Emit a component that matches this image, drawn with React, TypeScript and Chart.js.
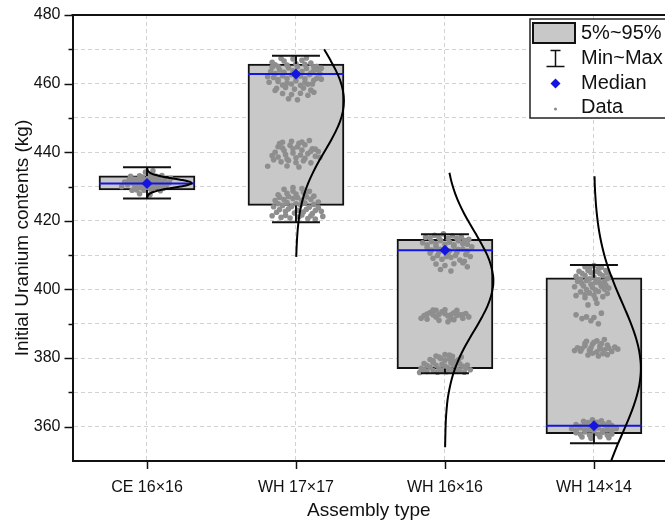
import { useEffect, useRef } from 'react';
import { Chart, registerables } from 'chart.js';

Chart.register(...registerables);

// ---- data -----------------------------------------------------------------
const categories = ['CE 16×16', 'WH 17×17', 'WH 16×16', 'WH 14×14'];
const lowerBox = [429.0, 424.5, 376.9, 358.0]; // 5th percentile
const upperBox = [433.1, 465.7, 414.6, 403.4]; // 95th percentile
const minima = [426.5, 419.6, 375.6, 355.2];
const maxima = [435.6, 468.1, 416.1, 407.1];
const medians = [430.9, 462.8, 411.4, 360.3];

const yMin = 350;
const yMax = 480;
const yStep = 10;
const yLabelStep = 20;

const legendLabels = ['5%~95%', 'Min~Max', 'Median', 'Data'];

// Fitted normal curves: level (kg) and half-width (in category units)
const ceCurveLevels = [426.5, 427, 427.5, 428, 428.5, 429, 429.5, 430, 430.5, 431, 431.5, 432, 432.5, 433, 433.5, 434, 434.5, 435, 435.5];
const ceCurveWidths = [0.001, 0.003, 0.008, 0.021, 0.047, 0.092, 0.154, 0.223, 0.279, 0.3, 0.279, 0.223, 0.154, 0.092, 0.047, 0.021, 0.008, 0.003, 0.001];

const wh17CurveLevels = [409.5, 412, 416, 419, 422, 425, 428, 431, 434, 437, 440, 443, 446, 449, 452, 455, 458, 461, 464, 467, 470];
const wh17CurveWidths = [0.002, 0.004, 0.009, 0.015, 0.024, 0.038, 0.057, 0.082, 0.113, 0.149, 0.189, 0.229, 0.266, 0.296, 0.315, 0.322, 0.315, 0.296, 0.266, 0.229, 0.189];

const wh16CurveLevels = [354, 358, 362, 365, 368, 371, 374, 377, 380, 383, 386, 389, 392, 395, 398, 401, 402.5, 404, 407, 410, 413, 416, 419, 422, 425, 428, 431, 434];
const wh16CurveWidths = [0.001, 0.003, 0.006, 0.011, 0.018, 0.03, 0.046, 0.068, 0.096, 0.13, 0.169, 0.21, 0.249, 0.284, 0.309, 0.323, 0.325, 0.323, 0.309, 0.284, 0.249, 0.21, 0.169, 0.13, 0.096, 0.068, 0.046, 0.03];

const wh14CurveLevels = [350, 354, 357, 360, 363, 366, 369, 372, 375, 377, 379, 382, 385, 388, 391, 394, 397, 400, 403, 406, 409, 412, 415, 418, 421, 424, 427, 430, 433];
const wh14CurveWidths = [0.115, 0.151, 0.181, 0.211, 0.24, 0.266, 0.288, 0.304, 0.313, 0.315, 0.313, 0.304, 0.288, 0.266, 0.24, 0.211, 0.181, 0.151, 0.124, 0.098, 0.076, 0.058, 0.043, 0.031, 0.022, 0.015, 0.01, 0.006, 0.004];

// Individual samples: [jitter (category units), uranium content (kg)]
const ceSamples: [number, number][] = [
  [-0.1, 431.2], [-0.06, 430.6], [-0.02, 431.5], [0.02, 430.8], [0.06, 431.4], [0.1, 430.7],
  [-0.08, 432.1], [-0.04, 432.4], [0.0, 432.0], [0.04, 432.3], [0.08, 431.9],
  [-0.08, 429.9], [-0.04, 429.6], [0.0, 430.1], [0.04, 429.7], [0.08, 430.2],
  [-0.13, 430.5], [-0.12, 431.9], [0.12, 432.0], [0.13, 430.4],
  [-0.05, 433.1], [0.01, 433.3], [0.06, 433.0], [-0.02, 428.9], [0.03, 429.0], [-0.07, 429.0],
  [-0.15, 431.3], [0.15, 431.1], [-0.11, 433.0], [0.1, 433.2], [-0.1, 428.9], [0.09, 428.8],
  [-0.01, 434.2], [0.04, 434.6], [-0.05, 427.9], [0.02, 427.6], [-0.17, 430.0], [0.16, 432.4],
  [0.0, 431.0], [-0.03, 430.3], [0.05, 432.9],
  [-0.09, 430.9], [-0.05, 431.0], [-0.01, 430.5], [0.03, 431.2], [0.07, 430.9], [-0.07, 431.7],
  [-0.03, 431.8], [0.01, 431.6], [0.05, 431.9], [0.09, 431.5], [-0.06, 430.2], [-0.02, 430.0],
  [0.02, 430.4], [0.06, 429.9], [-0.11, 432.6], [0.11, 429.5], [0.0, 429.4], [-0.03, 432.8], [0.03, 432.7],
];

const wh17Samples: [number, number][] = [
  // upper group
  [-0.14, 465.5], [-0.08, 466.6], [-0.02, 467.2], [0.04, 466.8], [0.1, 466.0], [0.14, 465.0],
  [-0.17, 463.5], [-0.11, 464.0], [-0.05, 464.6], [0.01, 464.9], [0.07, 464.4], [0.12, 463.8], [0.16, 462.9],
  [-0.15, 461.8], [-0.09, 462.3], [-0.03, 462.6], [0.03, 462.2], [0.09, 462.6], [0.14, 461.6],
  [-0.18, 460.4], [-0.12, 460.6], [-0.06, 460.2], [0.0, 460.8], [0.06, 460.3], [0.11, 459.9],
  [-0.13, 458.6], [-0.07, 458.9], [-0.01, 458.4], [0.05, 458.7], [0.1, 458.1],
  [-0.09, 457.1], [-0.03, 456.8], [0.03, 457.2], [0.08, 456.6], [-0.05, 455.6], [0.01, 455.3],
  [-0.19, 462.0], [0.17, 464.5], [-0.16, 466.2], [0.07, 467.5], [-0.1, 467.3], [0.12, 457.5], [-0.14, 458.0],
  [-0.12, 465.0], [-0.06, 465.4], [0.0, 465.8], [0.06, 465.6], [0.12, 464.9],
  [-0.14, 462.9], [-0.08, 463.3], [-0.02, 463.7], [0.04, 463.5], [0.1, 463.1], [0.15, 464.0],
  [-0.12, 461.2], [-0.06, 461.5], [0.0, 461.9], [0.06, 461.4], [0.12, 461.0],
  [-0.09, 459.6], [-0.03, 459.9], [0.03, 459.5], [0.08, 459.8], [-0.16, 464.8], [0.17, 461.3],
  // middle group
  [-0.14, 440.0], [-0.09, 441.2], [-0.04, 442.0], [0.01, 441.6], [0.06, 442.2], [0.11, 441.0], [0.15, 440.2],
  [-0.12, 438.6], [-0.07, 439.3], [-0.02, 439.8], [0.03, 439.2], [0.08, 439.6], [0.13, 438.8],
  [-0.1, 437.2], [-0.05, 437.6], [0.0, 437.0], [0.05, 437.5], [0.1, 436.9],
  [-0.03, 443.2], [0.04, 443.0], [-0.06, 436.0], [0.02, 435.7], [-0.16, 439.0], [0.16, 438.5],
  [-0.19, 435.9], [0.09, 443.4], [-0.11, 442.5],
  [-0.08, 440.5], [-0.02, 441.0], [0.04, 440.6], [0.1, 440.3], [-0.12, 441.6], [0.0, 438.4],
  [0.06, 438.2], [-0.06, 438.0], [-0.15, 437.8], [0.13, 440.9], [0.02, 442.6], [-0.09, 442.9],
  // lower group
  [-0.08, 429.2], [-0.02, 429.7], [0.04, 429.4], [0.09, 428.6],
  [-0.12, 427.6], [-0.06, 428.0], [0.0, 427.8], [0.06, 427.9], [0.12, 427.2],
  [-0.14, 425.9], [-0.08, 426.2], [-0.02, 426.5], [0.04, 426.0], [0.1, 426.3], [0.15, 425.5],
  [-0.15, 424.1], [-0.09, 424.5], [-0.03, 424.2], [0.03, 424.7], [0.09, 424.0], [0.15, 423.8],
  [-0.13, 422.5], [-0.07, 422.8], [-0.01, 422.3], [0.05, 422.6], [0.11, 422.1], [0.17, 422.8],
  [-0.1, 421.0], [-0.04, 420.8], [0.02, 421.2], [0.08, 420.7], [-0.16, 421.5], [0.18, 421.3], [0.13, 420.5],
  [-0.11, 426.9], [-0.05, 427.1], [0.01, 426.8], [0.07, 427.0], [-0.12, 425.0], [-0.06, 425.3],
  [0.0, 425.0], [0.06, 425.2], [0.12, 424.8], [-0.11, 423.3], [-0.05, 423.5], [0.01, 423.1],
  [0.07, 423.4], [0.13, 423.0], [-0.07, 421.6], [0.04, 421.7], [0.1, 421.5], [-0.02, 428.7], [0.05, 428.3],
];

const wh16Samples: [number, number][] = [
  // upper group
  [-0.13, 415.2], [-0.07, 415.8], [-0.01, 416.2], [0.05, 415.6], [0.11, 415.3], [0.16, 414.6],
  [-0.15, 413.6], [-0.09, 414.0], [-0.03, 414.3], [0.03, 413.8], [0.09, 414.2], [0.15, 413.2],
  [-0.12, 412.2], [-0.06, 412.5], [0.0, 412.0], [0.06, 412.6], [0.12, 411.8], [0.18, 412.4],
  [-0.1, 410.6], [-0.04, 410.9], [0.02, 410.4], [0.08, 410.8], [0.14, 410.2],
  [-0.08, 409.1], [-0.02, 408.8], [0.04, 409.3], [0.1, 408.6], [0.17, 409.6],
  [-0.06, 407.4], [0.0, 407.0], [0.06, 407.5], [0.12, 407.8], [-0.03, 405.8], [0.04, 405.4], [0.15, 406.6],
  [-0.1, 415.0], [-0.04, 415.1], [0.02, 414.9], [0.08, 414.9], [0.13, 414.3], [-0.12, 413.0],
  [-0.06, 413.3], [0.0, 413.2], [0.06, 413.0], [0.12, 413.3], [-0.09, 411.5], [-0.03, 411.7],
  [0.03, 411.3], [0.09, 411.6], [0.15, 411.2], [-0.05, 409.9], [0.01, 409.6], [0.07, 409.9], [0.13, 408.2],
  // middle group
  [-0.14, 392.4], [-0.1, 393.3], [-0.06, 392.0], [-0.02, 393.5], [0.02, 392.3], [0.06, 393.2], [0.1, 392.6], [0.14, 393.0],
  [-0.12, 391.3], [-0.04, 391.0], [0.04, 391.4], [0.12, 391.6], [-0.08, 394.0], [0.0, 394.1], [0.08, 393.9],
  [-0.16, 391.6], [0.16, 392.0], [0.02, 390.6],
  [-0.12, 392.8], [-0.08, 392.6], [-0.04, 392.7], [0.0, 392.9], [0.04, 392.6], [0.08, 392.4],
  [0.12, 392.7], [-0.06, 393.9], [0.06, 391.2],
  // lower group
  [-0.06, 380.6], [0.0, 381.0], [0.05, 380.5], [-0.1, 379.6], [-0.03, 379.9], [0.03, 379.7], [0.09, 379.5],
  [-0.14, 378.4], [-0.08, 378.7], [-0.02, 378.2], [0.04, 378.6], [0.1, 378.3], [0.15, 378.0],
  [-0.16, 377.0], [-0.1, 377.3], [-0.04, 376.9], [0.02, 377.2], [0.08, 376.8], [0.14, 377.1],
  [-0.12, 376.1], [-0.05, 375.9], [0.01, 376.0], [0.07, 376.2], [0.13, 375.9], [0.17, 376.6], [-0.17, 375.8], [0.11, 380.3],
  [-0.08, 379.2], [0.0, 379.4], [0.06, 379.1], [-0.12, 377.8], [-0.06, 377.9], [0.0, 377.7],
  [0.06, 377.9], [0.12, 377.6], [-0.14, 376.6], [-0.08, 376.4], [-0.02, 376.5], [0.04, 376.6],
  [0.1, 376.5], [-0.04, 380.3], [0.03, 380.9],
];

const wh14Samples: [number, number][] = [
  // upper group
  [-0.06, 406.6], [0.0, 407.0], [0.05, 406.4],
  [-0.1, 405.3], [-0.04, 405.6], [0.02, 405.2], [0.08, 405.5],
  [-0.12, 403.8], [-0.06, 404.1], [0.0, 403.6], [0.06, 404.0], [0.11, 403.5],
  [-0.11, 402.3], [-0.05, 402.6], [0.01, 402.1], [0.07, 402.4],
  [-0.13, 400.8], [-0.07, 401.0], [-0.01, 400.6], [0.05, 400.9], [0.1, 400.4],
  [-0.09, 399.3], [-0.03, 399.0], [0.03, 399.4], [0.09, 398.8],
  [-0.06, 397.6], [0.01, 397.3], [0.06, 397.9], [-0.12, 398.2], [0.02, 396.0], [-0.04, 395.5],
  [-0.03, 406.2], [0.03, 406.0], [-0.08, 404.7], [-0.02, 404.9], [0.04, 404.6], [0.09, 404.8],
  [-0.09, 403.0], [-0.03, 403.1], [0.03, 402.9], [0.09, 403.2], [-0.08, 401.7], [-0.02, 401.5],
  [0.04, 401.8], [0.08, 401.3], [-0.05, 400.0], [0.01, 399.8], [0.07, 400.1], [-0.06, 398.5], [0.0, 398.3],
  // sparse points
  [-0.12, 392.6], [-0.05, 392.0], [0.0, 391.8], [0.05, 393.1], [-0.02, 390.9], [0.03, 390.0], [-0.08, 391.5],
  // middle group
  [-0.11, 383.0], [-0.06, 383.6], [-0.01, 384.0], [0.04, 383.5], [0.09, 383.8], [0.14, 383.2],
  [-0.09, 382.0], [-0.03, 382.3], [0.02, 381.8], [0.07, 382.4], [0.12, 381.9],
  [-0.13, 382.2], [-0.04, 380.9], [0.03, 380.6], [0.09, 381.0], [0.02, 385.0], [0.07, 385.4], [-0.05, 384.9], [0.16, 382.6],
  [-0.08, 382.8], [-0.02, 383.0], [0.04, 382.7], [0.1, 382.9], [-0.06, 384.3], [0.0, 384.6],
  [0.05, 384.2], [-0.01, 381.4], [0.06, 381.3],
  // lower group
  [-0.07, 361.6], [-0.01, 362.0], [0.05, 361.7], [0.1, 361.2],
  [-0.12, 360.6], [-0.06, 360.8], [0.0, 360.4], [0.06, 360.9], [0.12, 360.3],
  [-0.15, 359.4], [-0.09, 359.7], [-0.03, 359.2], [0.03, 359.6], [0.09, 359.1], [0.15, 359.5],
  [-0.12, 358.2], [-0.06, 358.5], [0.0, 358.0], [0.06, 358.4], [0.12, 357.9],
  [-0.08, 357.0], [-0.02, 356.6], [0.04, 357.1], [0.1, 356.8],
  [-0.09, 360.1], [-0.03, 360.0], [0.03, 360.2], [0.09, 360.0], [-0.12, 359.0], [-0.06, 359.1],
  [0.0, 359.0], [0.06, 358.9], [0.12, 358.8], [-0.09, 357.7], [-0.03, 357.6], [0.03, 357.8],
  [0.09, 357.5], [-0.04, 361.2], [0.02, 361.3], [0.07, 360.5],
];

// ---- styling ----------------------------------------------------------------
const FONT = "'Liberation Sans', Arial, sans-serif";
const TEXT = '#111111';
const BOX_FILL = '#c8c8c8';
const BLUE = '#1515e0';
const DOT = '#8e8e8e';
const GRID = '#d2d2d2';
const BOX_HALF = 0.322;
const CAP_HALF = 0.161;

const curveLevels = [ceCurveLevels, wh17CurveLevels, wh16CurveLevels, wh14CurveLevels];
const curveWidths = [ceCurveWidths, wh17CurveWidths, wh16CurveWidths, wh14CurveWidths];
const sampleGroups = [ceSamples, wh17Samples, wh16Samples, wh14Samples];

type Pt = { x: number; y: number | null };

function buildConfig(): any {
  const pos = (i: number) => i + 1;

  const boxes = categories.map((_, i) => ({ x: pos(i), y: [lowerBox[i], upperBox[i]] }));

  const medianSegs: Pt[] = [];
  const whiskerSegs: Pt[] = [];
  categories.forEach((_, i) => {
    const c = pos(i);
    medianSegs.push({ x: c - BOX_HALF, y: medians[i] }, { x: c + BOX_HALF, y: medians[i] }, { x: c, y: null });
    whiskerSegs.push(
      { x: c - CAP_HALF, y: maxima[i] }, { x: c + CAP_HALF, y: maxima[i] }, { x: c, y: null },
      { x: c, y: maxima[i] }, { x: c, y: upperBox[i] }, { x: c, y: null },
      { x: c, y: lowerBox[i] }, { x: c, y: minima[i] }, { x: c, y: null },
      { x: c - CAP_HALF, y: minima[i] }, { x: c + CAP_HALF, y: minima[i] }, { x: c, y: null },
    );
  });

  const samples = sampleGroups.flatMap((g, i) => g.map(([dx, v]) => ({ x: pos(i) + dx, y: v })));
  const medianMarks = medians.map((m, i) => ({ x: pos(i), y: m }));

  const curveSets = categories.map((_, i) => ({
    type: 'line',
    data: curveLevels[i].map((v, k) => ({ x: pos(i) + curveWidths[i][k], y: v })),
    borderColor: '#000',
    borderWidth: 2,
    pointRadius: 0,
    tension: 0.35,
    fill: false,
    showLine: true,
    order: 1,
  }));

  const tickFont = { family: FONT, size: 16 };
  const titleFont = { family: FONT, size: 19 };

  const framePlugin = {
    id: 'frame',
    afterDraw(chart: any) {
      const { ctx, chartArea, scales } = chart;
      const xs = scales.x;
      const ys = scales.y;
      ctx.save();
      ctx.strokeStyle = '#111';
      // top frame line
      ctx.lineWidth = 2;
      ctx.beginPath();
      ctx.moveTo(chartArea.left - 1, chartArea.top);
      ctx.lineTo(chartArea.right, chartArea.top);
      ctx.stroke();
      // y ticks: long ones at labelled values, short ones in between
      ctx.lineWidth = 1.5;
      for (let v = yMin + yStep; v <= yMax; v += yStep) {
        const py = Math.round(ys.getPixelForValue(v)) + 0.5;
        const major = v % yLabelStep === 0;
        ctx.beginPath();
        ctx.moveTo(chartArea.left - (major ? 8 : 4), py);
        ctx.lineTo(chartArea.left, py);
        ctx.stroke();
      }
      // x ticks
      categories.forEach((_, i) => {
        const px = Math.round(xs.getPixelForValue(pos(i))) + 0.5;
        ctx.beginPath();
        ctx.moveTo(px, chartArea.bottom);
        ctx.lineTo(px, chartArea.bottom + 8);
        ctx.stroke();
      });

      // legend
      const lx = chartArea.right - 135;
      const ly = chartArea.top + 4;
      const lw = 145;
      const lh = 99;
      ctx.fillStyle = '#fff';
      ctx.fillRect(lx, ly, lw, lh);
      ctx.lineWidth = 1.5;
      ctx.strokeStyle = '#222';
      ctx.strokeRect(lx, ly, lw, lh);
      const rows = [ly + 14, ly + 39.5, ly + 64.5, ly + 88];
      const ix = lx + 25.5;
      // box swatch
      ctx.fillStyle = BOX_FILL;
      ctx.fillRect(lx + 3, rows[0] - 10, 42, 20);
      ctx.lineWidth = 2;
      ctx.strokeStyle = '#111';
      ctx.strokeRect(lx + 3, rows[0] - 10, 42, 20);
      // whisker swatch
      ctx.lineWidth = 1.5;
      ctx.beginPath();
      ctx.moveTo(ix - 5, rows[1] - 8); ctx.lineTo(ix + 5, rows[1] - 8);
      ctx.moveTo(ix, rows[1] - 8); ctx.lineTo(ix, rows[1] + 8);
      ctx.moveTo(ix - 9, rows[1] + 8); ctx.lineTo(ix + 9, rows[1] + 8);
      ctx.stroke();
      // median swatch
      ctx.fillStyle = BLUE;
      ctx.beginPath();
      ctx.moveTo(ix, rows[2] - 5); ctx.lineTo(ix + 5, rows[2]); ctx.lineTo(ix, rows[2] + 5); ctx.lineTo(ix - 5, rows[2]);
      ctx.closePath();
      ctx.fill();
      // data swatch
      ctx.fillStyle = DOT;
      ctx.beginPath();
      ctx.arc(ix, rows[3] + 2, 1.6, 0, Math.PI * 2);
      ctx.fill();
      // labels
      ctx.fillStyle = TEXT;
      ctx.font = `20px ${FONT}`;
      ctx.textBaseline = 'middle';
      ctx.textAlign = 'left';
      legendLabels.forEach((t, k) => ctx.fillText(t, lx + 51, rows[k]));
      ctx.restore();
    },
  };

  return {
    type: 'scatter',
    data: {
      datasets: [
        {
          type: 'bar',
          data: boxes,
          backgroundColor: BOX_FILL,
          borderColor: '#111',
          borderWidth: 2,
          borderSkipped: false,
          barThickness: 96,
          order: 6,
        },
        {
          type: 'scatter',
          data: samples,
          backgroundColor: DOT,
          borderWidth: 0,
          pointRadius: 2.8,
          order: 5,
        },
        {
          type: 'line',
          data: medianSegs,
          borderColor: BLUE,
          borderWidth: 2,
          pointRadius: 0,
          spanGaps: false,
          tension: 0,
          showLine: true,
          order: 4,
        },
        {
          type: 'line',
          data: whiskerSegs,
          borderColor: '#111',
          borderWidth: 2,
          pointRadius: 0,
          spanGaps: false,
          tension: 0,
          showLine: true,
          order: 3,
        },
        {
          type: 'scatter',
          data: medianMarks,
          pointStyle: 'rectRot',
          pointRadius: 5.5,
          backgroundColor: BLUE,
          borderColor: BLUE,
          borderWidth: 0,
          order: 2,
        },
        ...curveSets,
      ],
    },
    options: {
      responsive: false,
      animation: false,
      events: [],
      layout: { autoPadding: false, padding: { top: 15, right: 0, left: 0, bottom: 0 } },
      plugins: { legend: { display: false }, tooltip: { enabled: false } },
      scales: {
        x: {
          type: 'linear',
          min: 0.5,
          max: 4.477,
          offset: false,
          afterBuildTicks: (scale: any) => {
            scale.ticks = categories.map((_, i) => ({ value: pos(i) }));
          },
          afterFit: (scale: any) => {
            scale.height = 61;
            scale.paddingLeft = 0;
            scale.paddingRight = 0;
          },
          grid: { color: GRID, lineWidth: 1, drawTicks: false, offset: false },
          border: { display: true, color: '#111', width: 2, dash: [4, 3] },
          ticks: {
            font: tickFont,
            color: TEXT,
            padding: 17,
            maxRotation: 0,
            autoSkip: false,
            callback: (v: any) => categories[Number(v) - 1] ?? '',
          },
          title: { display: true, text: 'Assembly type', font: titleFont, color: TEXT, padding: { top: 0, bottom: 0 } },
        },
        y: {
          type: 'linear',
          min: yMin,
          max: yMax,
          afterFit: (scale: any) => {
            scale.width = 72.5;
            scale.paddingTop = 0;
            scale.paddingBottom = 0;
          },
          grid: { color: GRID, lineWidth: 1, drawTicks: false },
          border: { display: true, color: '#111', width: 2, dash: [4, 3] },
          ticks: {
            stepSize: yStep,
            font: tickFont,
            color: TEXT,
            padding: 12,
            callback: (v: any) => (Number(v) % yLabelStep === 0 ? String(v) : ''),
          },
          title: {
            display: true,
            text: 'Initial Uranium contents (kg)',
            font: titleFont,
            color: TEXT,
            padding: { top: 11.5, bottom: 0 },
          },
        },
      },
    },
    plugins: [framePlugin],
  };
}

export default function App() {
  const canvasRef = useRef<HTMLCanvasElement>(null);

  useEffect(() => {
    document.body.style.margin = '0';
    const canvas = canvasRef.current;
    if (!canvas) return;
    const chart = new Chart(canvas, buildConfig());
    return () => chart.destroy();
  }, []);

  return <canvas ref={canvasRef} width={665} height={522} style={{ display: 'block' }} />;
}
